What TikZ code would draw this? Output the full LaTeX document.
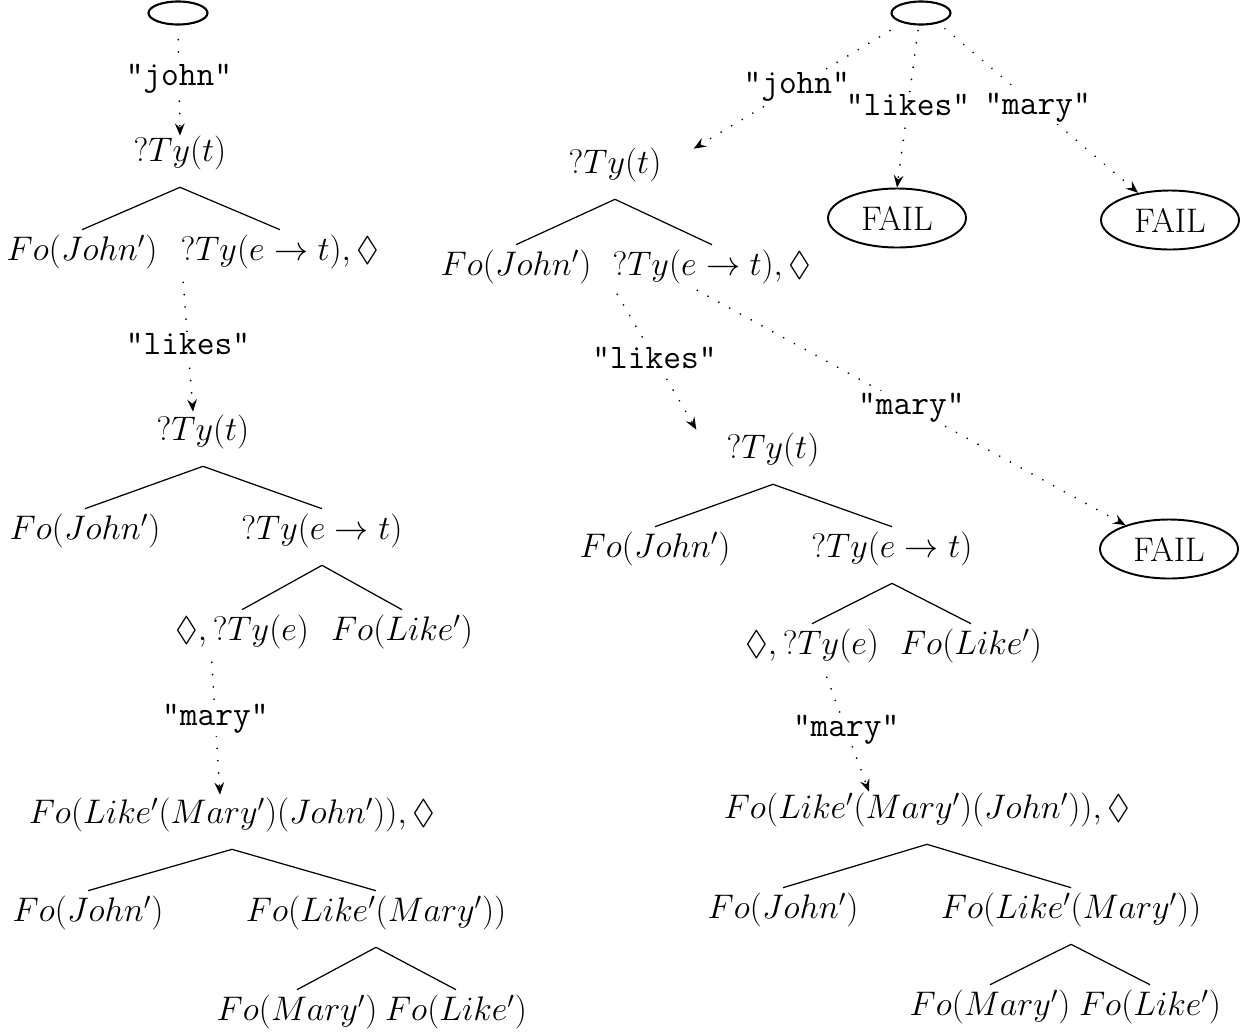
\RequirePackage{fix-cm}
\documentclass[tikz,border=0pt]{standalone}
\usepackage{amssymb}
\usetikzlibrary{arrows.meta,shapes.geometric,calc}
\begin{document}
\begin{tikzpicture}[x=0.02cm,y=-0.02cm,
  m/.style={inner sep=0pt, text height=14.5pt, text depth=4.8pt, font=\fontsize{19.4}{23}\selectfont},
  lbl/.style={font=\fontsize{19.6}{23}\selectfont\ttfamily, fill=white, inner sep=1pt},
  fail/.style={ellipse, draw, line width=1.1pt, minimum width=2.76cm, minimum height=1.18cm, inner sep=0pt, font=\fontsize{19.4}{23}\selectfont},
  topell/.style={ellipse, draw, line width=1.2pt, minimum width=1.18cm, minimum height=0.46cm, inner sep=0pt},
  tree/.style={line width=0.7pt},
  dotl/.style={line width=1.1pt, dash pattern=on 0.01pt off 7pt, line cap=round},
  arr/.style={-{Stealth[length=7pt,width=5.5pt,inset=2.5pt]}}
]
\useasboundingbox (0,0) rectangle (1244,1035);

% ---------- left derivation ----------
\node[topell] (e1) at (178,13) {};
\node[m] (t1) at (180,153) {$?Ty(t)$};
\node[m] (a1) at (82,252) {$Fo(John')$};
\node[m] (b1) at (280,252) {$?Ty(e\rightarrow t),\Diamond$};
\node[m] (t2) at (203,432) {$?Ty(t)$};
\node[m] (a2) at (85,531) {$Fo(John')$};
\node[m] (b2) at (322,531) {$?Ty(e\rightarrow t)$};
\node[m] (c2) at (242,632) {$\Diamond,?Ty(e)$};
\node[m] (d2) at (402,632) {$Fo(Like')$};
\node[m] (t3) at (232,815) {$Fo(Like'(Mary')(John')),\Diamond$};
\node[m] (a3) at (88,913) {$Fo(John')$};
\node[m] (b3) at (376,913) {$Fo(Like'(Mary'))$};
\node[m] (c3) at (297,1012) {$Fo(Mary')$};
\node[m] (d3) at (456,1012) {$Fo(Like')$};

\foreach \p/\c in {t1/a1,t1/b1,t2/a2,t2/b2,b2/c2,b2/d2,t3/a3,t3/b3,b3/c3,b3/d3}
  \draw[tree] ($(\p.south)+(0,17)$) -- ($(\c.north)+(0,-5)$);

\draw[dotl,arr,shorten <=8pt] (e1.south) -- node[lbl,pos=0.48] (lj1) {"john"} (t1.north);
\draw[dotl,arr] ($(b1.south west)+(3,13)$) -- node[lbl,pos=0.48] (ll1) {"likes"} ($(t2.north)+(-10,-3)$);
\draw[dotl,arr] ($(c2.south west)+(37,13)$) -- node[lbl,pos=0.43] (lm1) {"mary"} ($(t3.north)+(-12,-3)$);

% ---------- right derivation ----------
\node[topell] (e2) at (921,13) {};
\node[m] (t4) at (615,165) {$?Ty(t)$};
\node[m] (a4) at (516,267) {$Fo(John')$};
\node[m] (b4) at (712,267) {$?Ty(e\rightarrow t),\Diamond$};
\node[fail] (f1) at (897,218) {FAIL};
\node[fail] (f2) at (1170,220) {FAIL};
\node[m] (t5) at (773,450) {$?Ty(t)$};
\node[m] (a5) at (655,549) {$Fo(John')$};
\node[m] (b5) at (892,549) {$?Ty(e\rightarrow t)$};
\node[fail] (f3) at (1169,549) {FAIL};
\node[m] (c5) at (812,646) {$\Diamond,?Ty(e)$};
\node[m] (d5) at (971,646) {$Fo(Like')$};
\node[m] (t6) at (927,810) {$Fo(Like'(Mary')(John')),\Diamond$};
\node[m] (a6) at (783,910) {$Fo(John')$};
\node[m] (b6) at (1071,910) {$Fo(Like'(Mary'))$};
\node[m] (c6) at (990,1007) {$Fo(Mary')$};
\node[m] (d6) at (1150,1007) {$Fo(Like')$};

\foreach \p/\c in {t4/a4,t4/b4,t5/a5,t5/b5,b5/c5,b5/d5,t6/a6,t6/b6,b6/c6,b6/d6}
  \draw[tree] ($(\p.south)+(0,17)$) -- ($(\c.north)+(0,-5)$);

\draw[dotl,arr] ($(e2.south)+(-31,5)$) -- node[lbl,pos=0.475] (lj2) {"john"} ($(t4.north east)+(32,1)$);
\draw[dotl,arr] ($(e2.south)+(-3,5)$) -- node[lbl,pos=0.475] (ll2) {"likes"} (f1.north);
\draw[dotl,arr] ($(e2.south)+(24,3)$) -- node[lbl,pos=0.48] (lm2) {"mary"} (f2);
\draw[dotl,arr] ($(b4.south west)+(5,10)$) -- node[lbl,pos=0.47] (ll3) {"likes"} ($(t5.north west)+(-30,-3)$);
\draw[dotl,arr] ($(b4.south west)+(85,6)$) -- node[lbl,pos=0.5] (lm3) {"mary"} (f3);
\draw[dotl,arr] ($(c5.south west)+(82,14)$) -- node[lbl,pos=0.46] (lm4) {"mary"} ($(t6.north)+(-58,-1)$);
\end{tikzpicture}
\end{document}
